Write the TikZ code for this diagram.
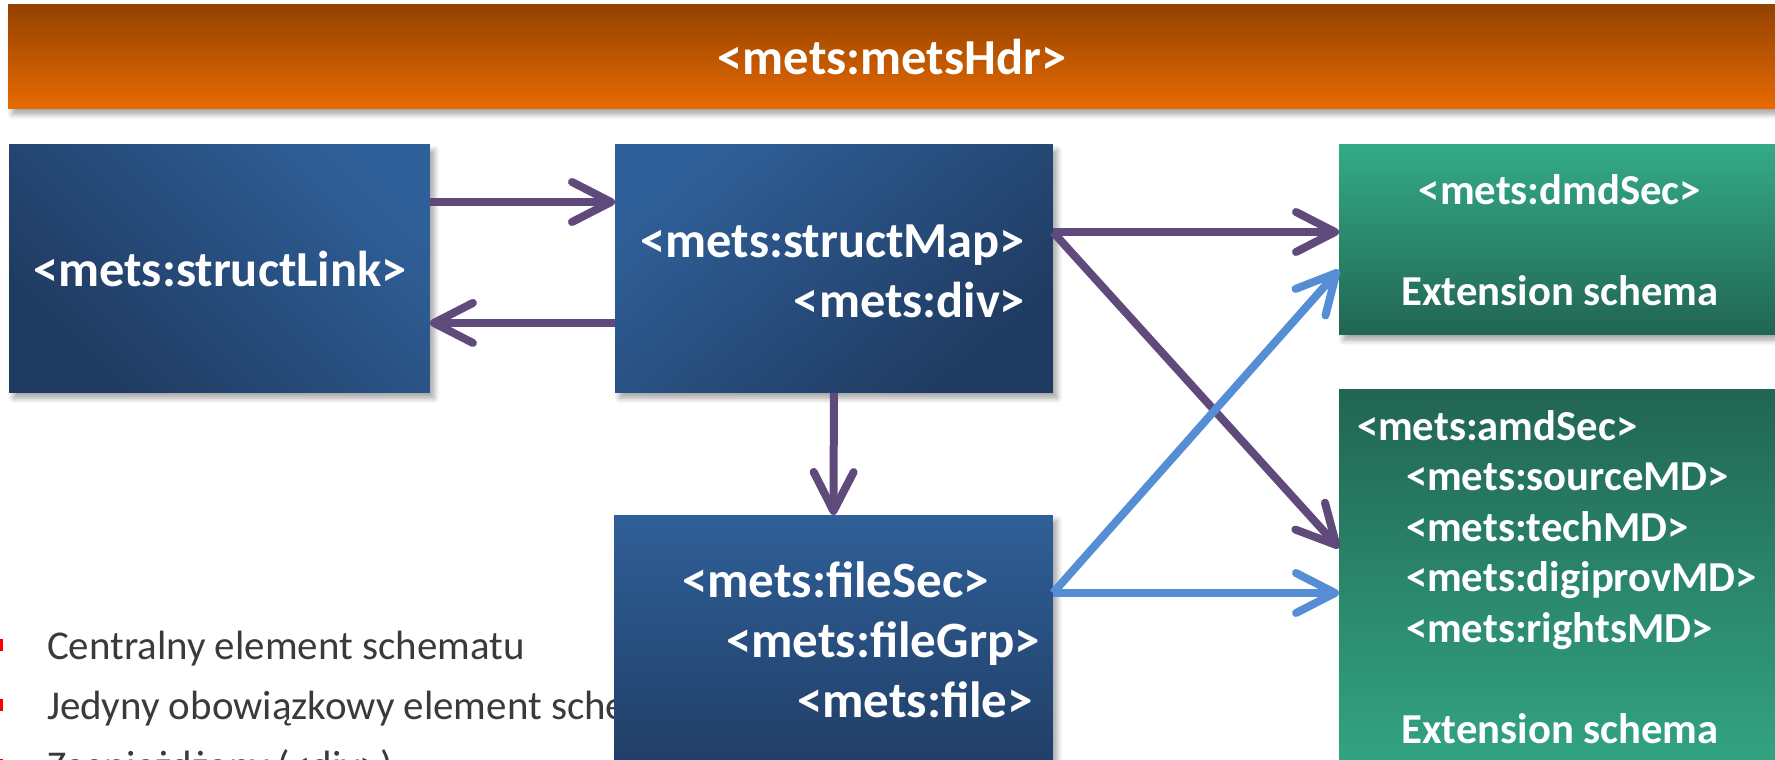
\documentclass[tikz,border=0pt]{standalone}
\usepackage{fontspec}
\setmainfont{Carlito}
\usetikzlibrary{arrows.meta,calc,shadows.blur}
\definecolor{hdrTop}{HTML}{934200}
\definecolor{hdrBot}{HTML}{E86A00}
\definecolor{blueL}{HTML}{2F5F98}
\definecolor{blueD}{HTML}{1F3A60}
\definecolor{greenL}{HTML}{34AA87}
\definecolor{greenD}{HTML}{216553}
\definecolor{arrPurple}{HTML}{604A7B}
\definecolor{arrBlue}{HTML}{558ED5}
\definecolor{bodyGray}{HTML}{3A3A3A}
\definecolor{bulletRed}{HTML}{FF0000}
\tikzset{
  box/.style={rectangle, inner sep=0pt, outer sep=0pt, anchor=north west,
    blur shadow={shadow xshift=2.5pt, shadow yshift=-3pt, shadow opacity=35, shadow blur steps=6, shadow blur radius=3pt}},
  hdrbox/.style={box, top color=hdrTop, bottom color=hdrBot},
  bluebox/.style={box, top color=blueL, bottom color=blueD},
  greenbox/.style={box, top color=greenL, bottom color=greenD},
  greenboxinv/.style={box, top color=greenD, bottom color=greenL},
  lbl/.style={inner sep=0pt, outer sep=0pt, text=white, font=\bfseries\fontsize{28.7}{34}\selectfont},
  lblbig/.style={lbl, font=\bfseries\fontsize{28.7}{34}\selectfont},
  lblfs/.style={lbl, font=\bfseries\fontsize{29}{34}\selectfont},
  lblsm/.style={lbl, font=\bfseries\fontsize{24.3}{30}\selectfont},
  bodytxt/.style={inner sep=0pt, outer sep=0pt, text=bodyGray, font=\fontsize{23.3}{28}\selectfont, anchor=base west},
  bulletsq/.style={rectangle, fill=bulletRed, inner sep=0pt, minimum size=0.24cm},
  parr/.style={draw=arrPurple, line width=0.16cm, -{Straight Barb[length=0.78cm, width=0.8cm, round]}},
  barr/.style={parr, draw=arrBlue},
}
\begin{document}
\begin{tikzpicture}[x=0.02cm, y=-0.02cm]
\useasboundingbox (0,0) rectangle (1775,760);
\clip (0,0) rectangle (1775,760);

% body text (partly under the fileSec box)
\node[bulletsq] (b1) at (-3,645) {};
\node[bulletsq] (b2) at (-3,705) {};
\node[bulletsq] (b3) at (-3,765) {};
\node[bodytxt] (t1) at (47,659) {Centralny element schematu};
\node[bodytxt] (t2) at (47,719) {Jedyny obowiązkowy element schematu};
\node[bodytxt] (t3) at (47,779) {Zagnieżdżony (<div>)};

% boxes
\node[hdrbox, minimum width=35.84cm, minimum height=2.08cm] (hdr) at (8,5) {};
\node[bluebox, shading angle=-45, minimum width=8.42cm, minimum height=4.96cm] (sl) at (9,145) {};
\node[bluebox, shading angle=40, minimum width=8.76cm, minimum height=4.96cm] (sm) at (615,145) {};
\node[bluebox, minimum width=8.78cm, minimum height=5.7cm] (fs) at (614,515) {};
\node[greenbox, minimum width=9.22cm, minimum height=3.8cm] (dmd) at (1339,145) {};
\node[greenboxinv, minimum width=9.22cm, minimum height=8.22cm] (amd) at (1339,389) {};

% labels
\node[lbl, anchor=base] (hdrT) at (892,75) {<mets:metsHdr>};
\node[lblbig, anchor=base] (slT) at (220,287) {<mets:structLink>};
\node[lbl, anchor=base east] (smT1) at (1025,257) {<mets:structMap>};
\node[lbl, anchor=base east] (smT2) at (1025,317) {<mets:div>};
\node[lblfs, anchor=base west] (fsT1) at (682,597) {<mets:fileSec>};
\node[lblfs, anchor=base west] (fsT2) at (726,657) {<mets:fileGrp>};
\node[lblfs, anchor=base west] (fsT3) at (797,717) {<mets:file>};
\node[lblsm, anchor=base] (dmdT1) at (1560,205) {<mets:dmdSec>};
\node[lblsm, anchor=base] (dmdT2) at (1560,305) {Extension schema};
\node[lblsm, anchor=base west] (amdT1) at (1357,440) {<mets:amdSec>};
\node[lblsm, anchor=base west] (amdT2) at (1406,490.5) {<mets:sourceMD>};
\node[lblsm, anchor=base west] (amdT3) at (1406,541) {<mets:techMD>};
\node[lblsm, anchor=base west] (amdT4) at (1406,591.5) {<mets:digiprovMD>};
\node[lblsm, anchor=base west] (amdT5) at (1406,642) {<mets:rightsMD>};
\node[lblsm, anchor=base] (amdT6) at (1560,743) {Extension schema};

% connectors
\draw[parr] ($(sl.north east)+(0,57)$) -- ($(sm.north west)+(0,57)$);
\draw[parr] ($(sm.south west)+(0,-70)$) -- ($(sl.south east)+(0,-70)$);
\draw[parr] (sm.south) -- (fs.north);
\draw[parr] ($(sm.north east)+(0,87)$) -- ($(dmd.north west)+(0,87)$);
\draw[parr] ($(sm.north east)+(0,87)$) -- ($(amd.north west)+(0,159)$);
\draw[barr] ($(fs.north east)+(0,78)$) -- ($(dmd.north west)+(0,125)$);
\draw[barr] ($(fs.north east)+(0,78)$) -- ($(amd.north west)+(0,204)$);
\end{tikzpicture}
\end{document}
